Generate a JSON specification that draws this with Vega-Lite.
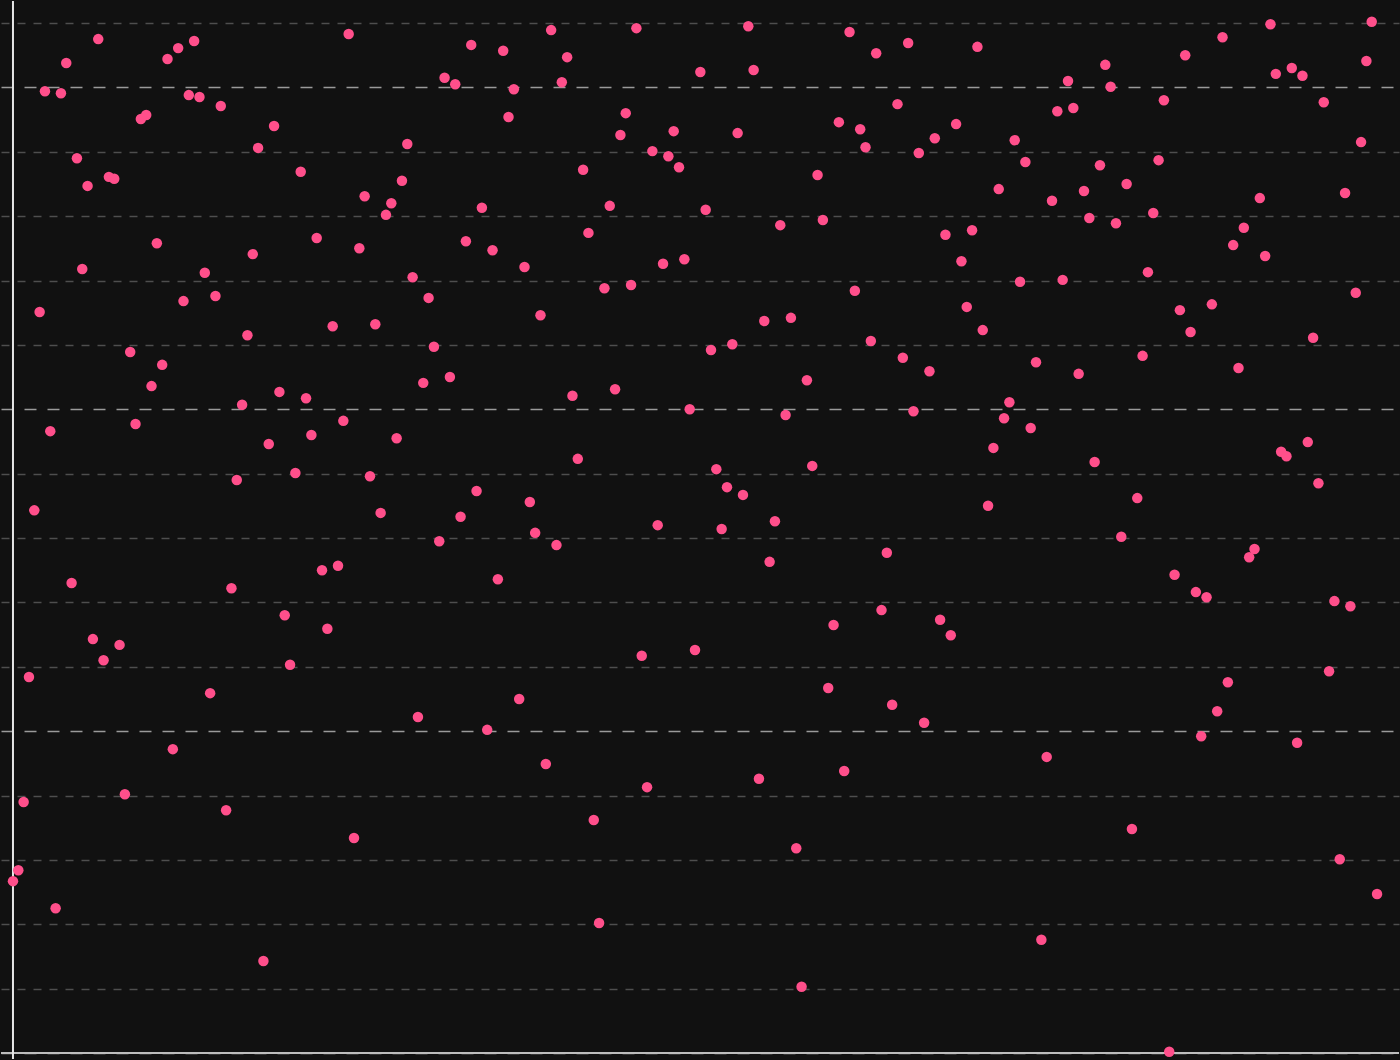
{
  "$schema": "https://vega.github.io/schema/vega-lite/v6.json",
  "width": 1400,
  "height": 1060,
  "autosize": {"type": "fit", "contains": "padding"},
  "padding": 0,
  "background": "#111111",
  "config": {"view": {"stroke": null, "fill": "#111111"}},
  "datasets": {
    "pts": [
      {"i":0,"v":2.67},{"i":1,"v":2.84},{"i":2,"v":3.90},{"i":3,"v":5.84},{"i":4,"v":8.43},{"i":5,"v":11.51},{"i":6,"v":14.94},{"i":7,"v":9.66},{"i":8,"v":2.25},{"i":9,"v":14.91},
      {"i":10,"v":15.38},{"i":11,"v":7.30},{"i":12,"v":13.90},{"i":13,"v":12.18},{"i":14,"v":13.47},{"i":15,"v":6.43},{"i":16,"v":15.75},{"i":17,"v":6.10},{"i":18,"v":13.61},{"i":19,"v":13.58},
      {"i":20,"v":6.34},{"i":21,"v":4.02},{"i":22,"v":10.89},{"i":23,"v":9.77},{"i":24,"v":14.51},{"i":25,"v":14.57},{"i":26,"v":10.36},{"i":27,"v":12.58},{"i":28,"v":10.69},{"i":29,"v":15.44},
      {"i":30,"v":4.72},{"i":31,"v":15.61},{"i":32,"v":11.68},{"i":33,"v":14.88},{"i":34,"v":15.72},{"i":35,"v":14.85},{"i":36,"v":12.12},{"i":37,"v":5.59},{"i":38,"v":11.76},{"i":39,"v":14.71},
      {"i":40,"v":3.77},{"i":41,"v":7.22},{"i":42,"v":8.90},{"i":43,"v":10.07},{"i":44,"v":11.15},{"i":45,"v":12.41},{"i":46,"v":14.06},{"i":47,"v":1.43},{"i":48,"v":9.46},{"i":49,"v":14.40},
      {"i":50,"v":10.27},{"i":51,"v":6.80},{"i":52,"v":6.03},{"i":53,"v":9.01},{"i":54,"v":13.69},{"i":55,"v":10.17},{"i":56,"v":9.60},{"i":57,"v":12.66},{"i":58,"v":7.50},{"i":59,"v":6.59},
      {"i":60,"v":11.29},{"i":61,"v":7.57},{"i":62,"v":9.82},{"i":63,"v":15.83},{"i":64,"v":3.34},{"i":65,"v":12.50},{"i":66,"v":13.31},{"i":67,"v":8.96},{"i":68,"v":11.32},{"i":69,"v":8.39},
      {"i":70,"v":13.02},{"i":71,"v":13.20},{"i":72,"v":9.55},{"i":73,"v":13.55},{"i":74,"v":14.12},{"i":75,"v":12.05},{"i":76,"v":5.22},{"i":77,"v":10.41},{"i":78,"v":11.73},{"i":79,"v":10.97},
      {"i":80,"v":7.95},{"i":81,"v":15.15},{"i":82,"v":10.50},{"i":83,"v":15.05},{"i":84,"v":8.33},{"i":85,"v":12.61},{"i":86,"v":15.66},{"i":87,"v":8.73},{"i":88,"v":13.13},{"i":89,"v":5.02},
      {"i":90,"v":12.47},{"i":91,"v":7.36},{"i":92,"v":15.57},{"i":93,"v":14.54},{"i":94,"v":14.97},{"i":95,"v":5.50},{"i":96,"v":12.21},{"i":97,"v":8.56},{"i":98,"v":8.08},{"i":99,"v":11.46},
      {"i":100,"v":4.49},{"i":101,"v":15.89},{"i":102,"v":7.89},{"i":103,"v":15.08},{"i":104,"v":15.47},{"i":105,"v":10.21},{"i":106,"v":9.23},{"i":107,"v":13.72},{"i":108,"v":12.74},{"i":109,"v":3.62},
      {"i":110,"v":2.02},{"i":111,"v":11.88},{"i":112,"v":13.16},{"i":113,"v":10.31},{"i":114,"v":14.26},{"i":115,"v":14.60},{"i":116,"v":11.93},{"i":117,"v":15.92},{"i":118,"v":6.17},{"i":119,"v":4.13},
      {"i":120,"v":14.01},{"i":121,"v":8.20},{"i":122,"v":12.26},{"i":123,"v":13.93},{"i":124,"v":14.32},{"i":125,"v":13.76},{"i":126,"v":12.33},{"i":127,"v":10.00},{"i":128,"v":6.26},{"i":129,"v":15.24},
      {"i":130,"v":13.10},{"i":131,"v":10.92},{"i":132,"v":9.07},{"i":133,"v":8.14},{"i":134,"v":8.79},{"i":135,"v":11.01},{"i":136,"v":14.29},{"i":137,"v":8.67},{"i":138,"v":15.95},{"i":139,"v":15.27},
      {"i":140,"v":4.26},{"i":141,"v":11.37},{"i":142,"v":7.63},{"i":143,"v":8.26},{"i":144,"v":12.86},{"i":145,"v":9.91},{"i":146,"v":11.42},{"i":147,"v":3.18},{"i":148,"v":1.03},{"i":149,"v":10.45},
      {"i":150,"v":9.12},{"i":151,"v":13.64},{"i":152,"v":12.94},{"i":153,"v":5.67},{"i":154,"v":6.65},{"i":155,"v":14.46},{"i":156,"v":4.38},{"i":157,"v":15.86},{"i":158,"v":11.84},{"i":159,"v":14.35},
      {"i":160,"v":14.07},{"i":161,"v":11.06},{"i":162,"v":15.53},{"i":163,"v":6.88},{"i":164,"v":7.77},{"i":165,"v":5.41},{"i":166,"v":14.74},{"i":167,"v":10.80},{"i":168,"v":15.69},{"i":169,"v":9.97},
      {"i":170,"v":13.98},{"i":171,"v":5.13},{"i":172,"v":10.59},{"i":173,"v":14.21},{"i":174,"v":6.73},{"i":175,"v":12.71},{"i":176,"v":6.49},{"i":177,"v":14.43},{"i":178,"v":12.30},{"i":179,"v":11.59},
      {"i":180,"v":12.78},{"i":181,"v":15.63},{"i":182,"v":11.23},{"i":183,"v":8.50},{"i":184,"v":9.40},{"i":185,"v":13.42},{"i":186,"v":9.86},{"i":187,"v":10.11},{"i":188,"v":14.18},{"i":189,"v":11.98},
      {"i":190,"v":13.84},{"i":191,"v":9.71},{"i":192,"v":10.73},{"i":193,"v":1.76},{"i":194,"v":4.60},{"i":195,"v":13.24},{"i":196,"v":14.63},{"i":197,"v":12.01},{"i":198,"v":15.10},{"i":199,"v":14.68},
      {"i":200,"v":10.55},{"i":201,"v":13.39},{"i":202,"v":12.97},{"i":203,"v":9.18},{"i":204,"v":13.79},{"i":205,"v":15.35},{"i":206,"v":15.01},{"i":207,"v":12.89},{"i":208,"v":8.02},{"i":209,"v":13.50},
      {"i":210,"v":3.48},{"i":211,"v":8.62},{"i":212,"v":10.83},{"i":213,"v":12.13},{"i":214,"v":13.05},{"i":215,"v":13.87},{"i":216,"v":14.80},{"i":217,"v":0.02},{"i":218,"v":7.43},{"i":219,"v":11.54},
      {"i":220,"v":15.50},{"i":221,"v":11.20},{"i":222,"v":7.16},{"i":223,"v":4.92},{"i":224,"v":7.08},{"i":225,"v":11.63},{"i":226,"v":5.31},{"i":227,"v":15.78},{"i":228,"v":5.76},{"i":229,"v":12.55},
      {"i":230,"v":10.64},{"i":231,"v":12.82},{"i":232,"v":7.70},{"i":233,"v":7.83},{"i":234,"v":13.28},{"i":235,"v":12.38},{"i":236,"v":15.98},{"i":237,"v":15.21},{"i":238,"v":9.34},{"i":239,"v":9.27},
      {"i":240,"v":15.30},{"i":241,"v":4.82},{"i":242,"v":15.18},{"i":243,"v":9.49},{"i":244,"v":11.11},{"i":245,"v":8.85},{"i":246,"v":14.77},{"i":247,"v":5.93},{"i":248,"v":7.02},{"i":249,"v":3.01},
      {"i":250,"v":13.36},{"i":251,"v":6.94},{"i":252,"v":11.81},{"i":253,"v":14.15},{"i":254,"v":15.41},{"i":255,"v":16.02},{"i":256,"v":2.47}
    ],
    "zero": [{"z": 0}]
  },
  "layer": [
    {
      "data": {"name": "zero"},
      "mark": {"type": "rule", "color": "#bdbdbd", "strokeWidth": 2},
      "encoding": {
        "y": {"field": "z", "type": "quantitative", "scale": {"domain": [-0.093, 16.342], "nice": false, "zero": false},
          "axis": {"values": [0,1,2,3,4,5,6,7,8,9,10,11,12,13,14,15,16], "labels": false, "ticks": false, "domain": false, "title": null,
            "grid": true,
            "gridColor": {"condition": {"test": "datum.value % 5 === 0", "value": "#9a9a9a"}, "value": "#4e4e4e"},
            "gridDash": {"condition": {"test": "datum.value % 5 === 0", "value": [12, 11]}, "value": [8, 8]},
            "gridWidth": 1.5}}
      }
    },
    {
      "data": {"name": "zero"},
      "mark": {"type": "rule", "color": "#e6e6e6", "strokeWidth": 2},
      "encoding": {
        "x": {"field": "z", "type": "quantitative", "scale": {"domain": [-2.249, 260.12], "nice": false, "zero": false}, "axis": null}
      }
    },
    {
      "data": {"name": "pts"},
      "mark": {"type": "circle", "color": "#ff4f8b", "opacity": 1, "size": 110},
      "encoding": {
        "x": {"field": "i", "type": "quantitative", "scale": {"domain": [-2.249, 260.12], "nice": false, "zero": false}, "axis": null},
        "y": {"field": "v", "type": "quantitative", "scale": {"domain": [-0.093, 16.342], "nice": false, "zero": false},
          "axis": {"values": [0,1,2,3,4,5,6,7,8,9,10,11,12,13,14,15,16], "labels": false, "ticks": false, "domain": false, "title": null,
            "grid": true,
            "gridColor": {"condition": {"test": "datum.value % 5 === 0", "value": "#9a9a9a"}, "value": "#4e4e4e"},
            "gridDash": {"condition": {"test": "datum.value % 5 === 0", "value": [12, 11]}, "value": [8, 8]},
            "gridWidth": 1.5}}
      }
    }
  ]
}
